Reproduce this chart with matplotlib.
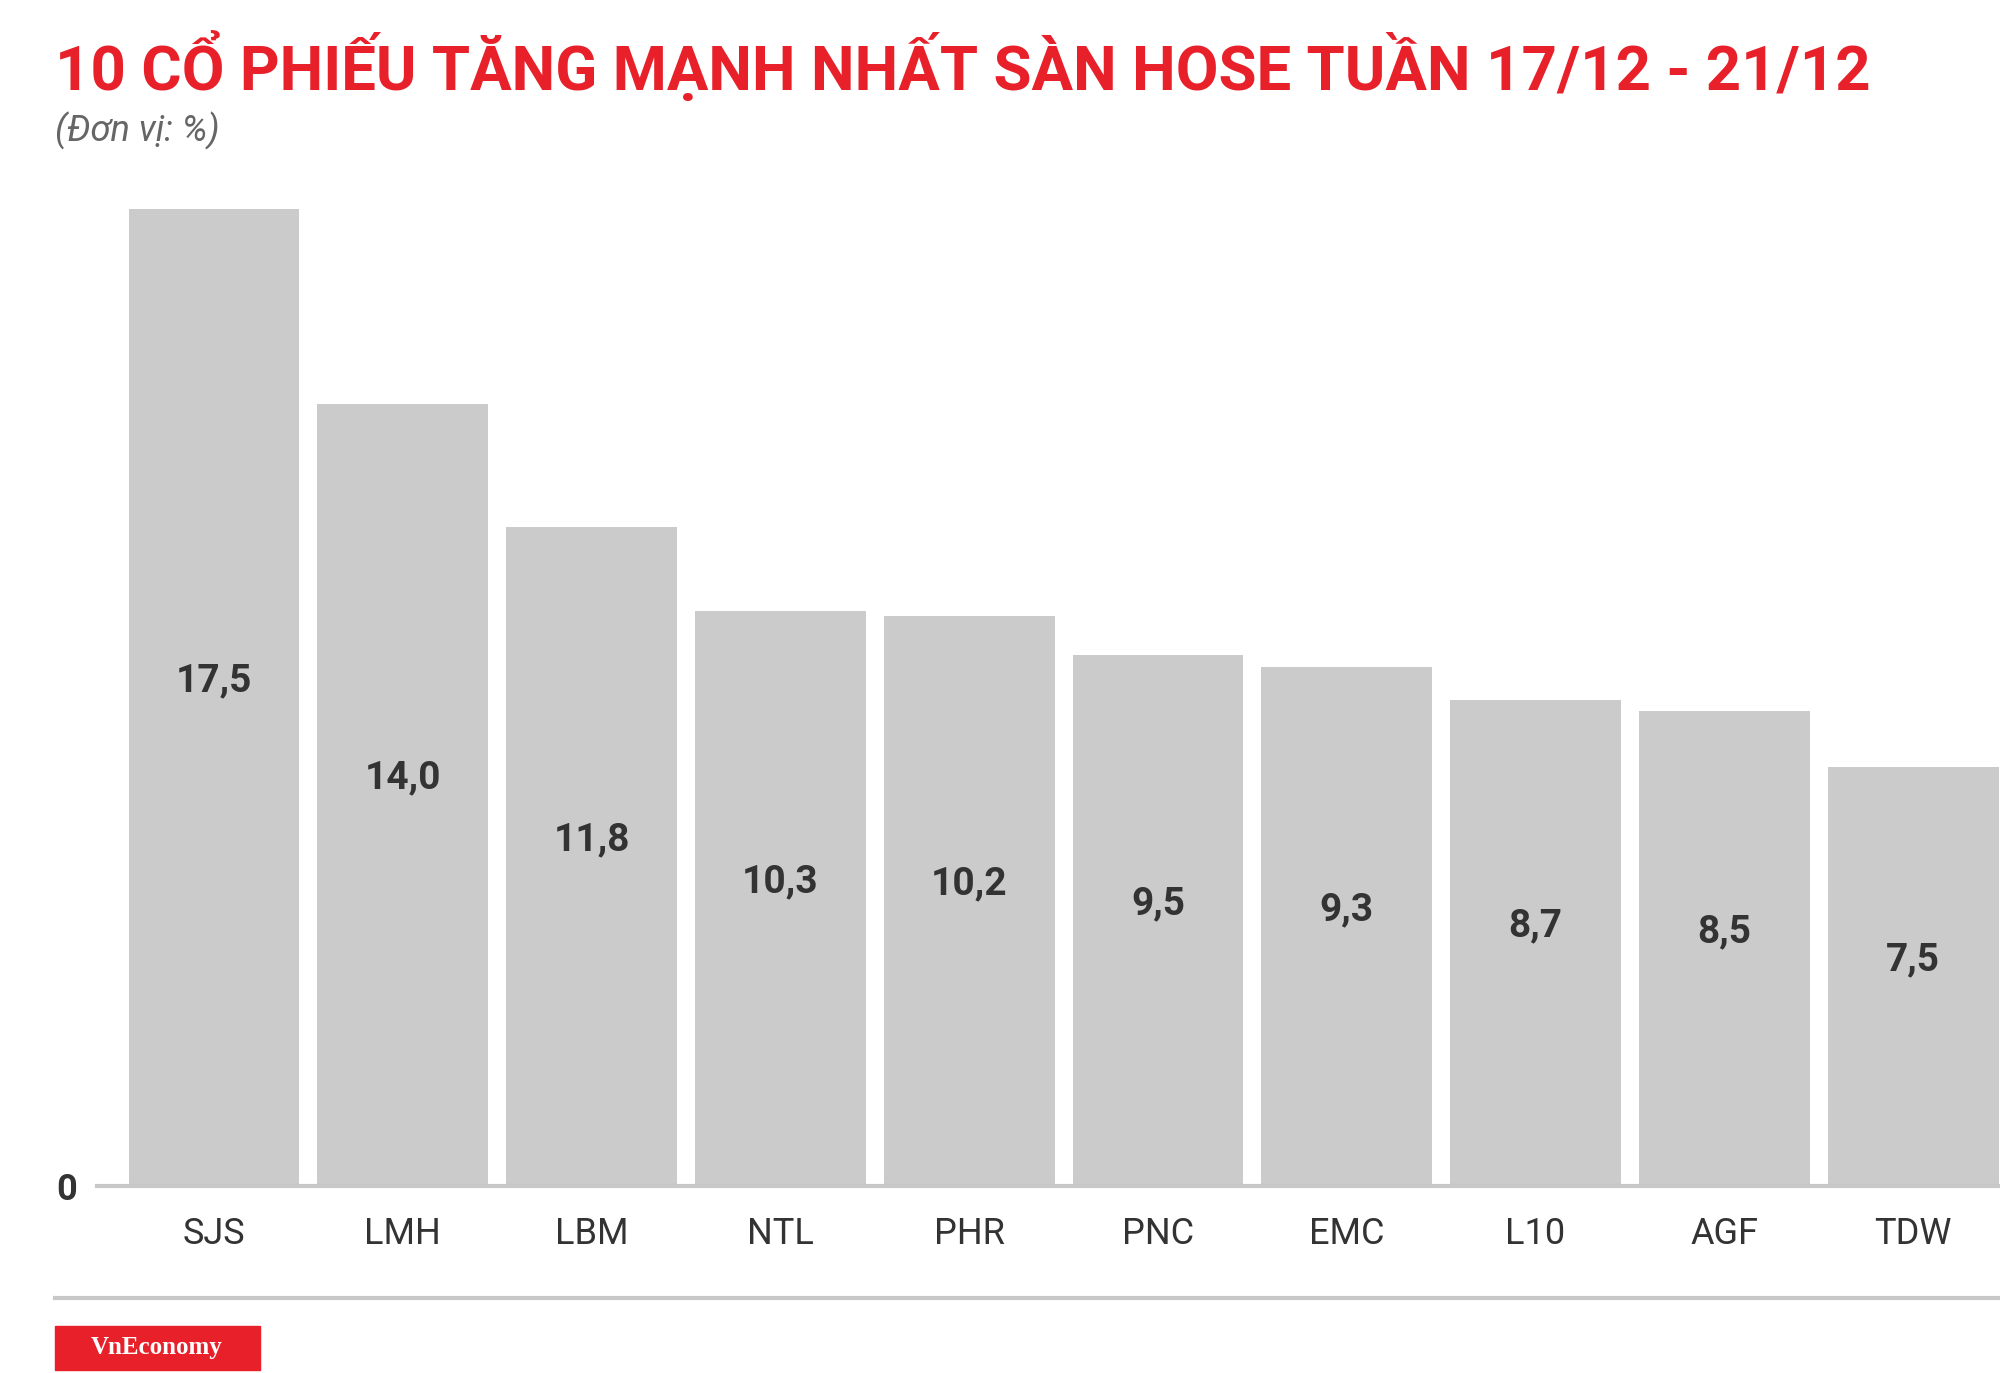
import matplotlib.pyplot as plt
from matplotlib.patches import Rectangle

categories = ['SJS', 'LMH', 'LBM', 'NTL', 'PHR', 'PNC', 'EMC', 'L10', 'AGF', 'TDW']
values = [17.5, 14.0, 11.8, 10.3, 10.2, 9.5, 9.3, 8.7, 8.5, 7.5]
labels = ['17,5', '14,0', '11,8', '10,3', '10,2', '9,5', '9,3', '8,7', '8,5', '7,5']

W, H = 1568, 1077
fig = plt.figure(figsize=(20, 13.73), dpi=100)
plt.rcParams['font.family'] = ['Roboto', 'DejaVu Sans']

ax = fig.add_axes([76 / W, (H - 930) / H, 1 - 76 / W, (930 - 164) / H])
x = range(len(categories))
ax.bar(x, values, width=0.905, color='#cccbcc')
ax.set_xlim(-0.62, 9.46)
ax.set_ylim(0, 17.5)
for s in ax.spines.values():
    s.set_visible(False)
ax.axhline(0, color='#c8c8c8', lw=3, clip_on=False)
ax.set_yticks([0])
ax.set_yticklabels(['0'], fontsize=26, fontweight='bold', color='#333333')
ax.set_xticks(list(x))
ax.set_xticklabels(categories, fontsize=26, color='#333333')
ax.tick_params(length=0, axis='x', pad=22)
ax.tick_params(length=0, axis='y', pad=14)
for i, (v, t) in enumerate(zip(values, labels)):
    ax.text(i, v / 2 + 0.3, t, ha='center', va='center', fontsize=28,
            fontweight='bold', color='#333333')

fig.text(43 / W, 1 - 52 / H, '10 CỔ PHIẾU TĂNG MẠNH NHẤT SÀN HOSE TUẦN 17/12 - 21/12',
         fontsize=44.5, fontweight='bold', color='#e8202a', va='center', ha='left')
fig.text(43 / W, 1 - 103 / H, '(Đơn vị: %)', fontsize=26, style='italic',
         color='#666666', va='center', ha='left')

fig.add_artist(plt.Line2D([43 / W, 1], [1 - 1018 / H] * 2, color='#c8c8c8', lw=3))
fig.add_artist(Rectangle((43 / W, 1 - 1075 / H), 161 / W, 35 / H, color='#e8202a'))
fig.text(123 / W, 1 - 1057 / H, 'VnEconomy', fontsize=18, fontweight='bold',
         family='Liberation Serif', color='white', ha='center', va='center')

fig.savefig('out.png', dpi=100, facecolor='white')
